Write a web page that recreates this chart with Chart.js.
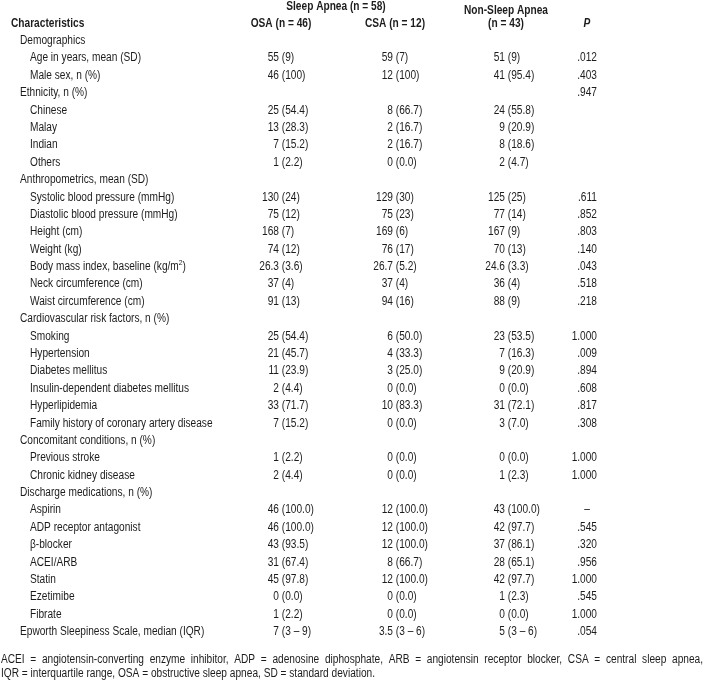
<!DOCTYPE html>
<html>
<head>
<meta charset="utf-8">
<script src="https://cdn.jsdelivr.net/npm/chart.js@4/dist/chart.umd.min.js"></script>
<style>
html,body{margin:0;padding:0;background:#fff;}
#wrap{position:relative;width:704px;height:680px;}
</style>
</head>
<body>
<div id="wrap"><canvas id="c" width="704" height="680"></canvas></div>
<script>
// ---- Table data ----
const rowLabels = [
  "Demographics","Age in years, mean (SD)","Male sex, n (%)",
  "Ethnicity, n (%)","Chinese","Malay","Indian","Others",
  "Anthropometrics, mean (SD)","Systolic blood pressure (mmHg)","Diastolic blood pressure (mmHg)",
  "Height (cm)","Weight (kg)","Body mass index, baseline (kg/m²)","Neck circumference (cm)","Waist circumference (cm)",
  "Cardiovascular risk factors, n (%)","Smoking","Hypertension","Diabetes mellitus",
  "Insulin-dependent diabetes mellitus","Hyperlipidemia","Family history of coronary artery disease",
  "Concomitant conditions, n (%)","Previous stroke","Chronic kidney disease",
  "Discharge medications, n (%)","Aspirin","ADP receptor antagonist","β-blocker","ACEI/ARB","Statin","Ezetimibe","Fibrate",
  "Epworth Sleepiness Scale, median (IQR)"
];
const rowLevel = [0,1,1, 0,1,1,1,1, 0,1,1,1,1,1,1,1, 0,1,1,1,1,1,1, 0,1,1, 0,1,1,1,1,1,1,1, 0];
const osaValues = ["","55 (9)","46 (100)","","25 (54.4)","13 (28.3)","7 (15.2)","1 (2.2)",
  "","130 (24)","75 (12)","168 (7)","74 (12)","26.3 (3.6)","37 (4)","91 (13)",
  "","25 (54.4)","21 (45.7)","11 (23.9)","2 (4.4)","33 (71.7)","7 (15.2)",
  "","1 (2.2)","2 (4.4)",
  "","46 (100.0)","46 (100.0)","43 (93.5)","31 (67.4)","45 (97.8)","0 (0.0)","1 (2.2)",
  "7 (3 – 9)"];
const csaValues = ["","59 (7)","12 (100)","","8 (66.7)","2 (16.7)","2 (16.7)","0 (0.0)",
  "","129 (30)","75 (23)","169 (6)","76 (17)","26.7 (5.2)","37 (4)","94 (16)",
  "","6 (50.0)","4 (33.3)","3 (25.0)","0 (0.0)","10 (83.3)","0 (0.0)",
  "","0 (0.0)","0 (0.0)",
  "","12 (100.0)","12 (100.0)","12 (100.0)","8 (66.7)","12 (100.0)","0 (0.0)","0 (0.0)",
  "3.5 (3 – 6)"];
const nsaValues = ["","51 (9)","41 (95.4)","","24 (55.8)","9 (20.9)","8 (18.6)","2 (4.7)",
  "","125 (25)","77 (14)","167 (9)","70 (13)","24.6 (3.3)","36 (4)","88 (9)",
  "","23 (53.5)","7 (16.3)","9 (20.9)","0 (0.0)","31 (72.1)","3 (7.0)",
  "","0 (0.0)","1 (2.3)",
  "","43 (100.0)","42 (97.7)","37 (86.1)","28 (65.1)","42 (97.7)","1 (2.3)","0 (0.0)",
  "5 (3 – 6)"];
const pValues = ["",".012",".403",".947","","","","",
  "",".611",".852",".803",".140",".043",".518",".218",
  "","1.000",".009",".894",".608",".817",".308",
  "","1.000","1.000",
  "","–",".545",".320",".956","1.000",".545","1.000",
  ".054"];
const headerTop = ["Sleep Apnea (n = 58)", "Non-Sleep Apnea"];
const headerCols = ["Characteristics", "OSA (n = 46)", "CSA (n = 12)", "(n = 43)", "P"];
const footnoteLines = [
  "ACEI = angiotensin-converting enzyme inhibitor, ADP = adenosine diphosphate, ARB = angiotensin receptor blocker, CSA = central sleep apnea,",
  "IQR = interquartile range, OSA = obstructive sleep apnea, SD = standard deviation."
];

// ---- Layout / style ----
const FONT = '"Liberation Sans",Arial,sans-serif';
const FS = 12;
const SX = 0.845;           // horizontal condensing (Arial Narrow look)
const INK = '#1c1c1c';
const colAnchor = {label0: 20, label1: 30, title: 11, osa: 279, csa: 393, nsa: 505, p: 597};

function txt(ctx, s, x, y, align){
  ctx.save();
  ctx.translate(x, y);
  ctx.scale(SX, 1);
  ctx.textAlign = align || 'left';
  ctx.fillText(s, 0, 0);
  ctx.restore();
}
function tw(ctx, s){ return ctx.measureText(s).width * SX; }

function drawAligned(ctx, s, x, y){
  const i = s.indexOf(' (');
  if (i < 0) { txt(ctx, s, x, y, 'left'); return; }
  txt(ctx, s.slice(0,i), x, y, 'right');
  txt(ctx, s.slice(i), x, y, 'left');
}

const tablePlugin = {
  id: 'tableText',
  afterDraw(chart){
    const ctx = chart.ctx, xs = chart.scales.x, ys = chart.scales.y;
    const X = v => xs.getPixelForValue(v);
    ctx.save();
    ctx.fillStyle = INK;
    ctx.textBaseline = 'middle';
    // header
    const yRow0 = ys.getPixelForValue(0);
    const step = ys.getPixelForValue(1) - yRow0;
    const yH2 = yRow0 - step * 1.0;
    const yH1 = yRow0 - step * 2.0;
    ctx.font = 'bold ' + FS + 'px ' + FONT;
    txt(ctx, headerCols[0], X(colAnchor.title), yH2, 'left');
    txt(ctx, headerTop[0], X(336), yH1 + 0.5, 'center');
    txt(ctx, headerCols[1], X(281), yH2, 'center');
    txt(ctx, headerCols[2], X(395), yH2, 'center');
    txt(ctx, headerTop[1], X(506), yH1 + 4.5, 'center');
    txt(ctx, headerCols[3], X(506), yH2 + 0.5, 'center');
    ctx.font = 'italic bold ' + FS + 'px ' + FONT;
    txt(ctx, headerCols[4], X(587), yH2, 'center');
    // body
    ctx.font = FS + 'px ' + FONT;
    rowLabels.forEach((lab, i) => {
      const y = ys.getPixelForValue(i);
      const lx = X(rowLevel[i] === 0 ? colAnchor.label0 : colAnchor.label1);
      const sup = lab.indexOf('²');
      if (sup >= 0) {
        const a = lab.slice(0, sup), b = lab.slice(sup+1);
        txt(ctx, a, lx, y, 'left');
        const wa = tw(ctx, a);
        ctx.font = (FS-4) + 'px ' + FONT;
        txt(ctx, '2', lx + wa, y - 4, 'left');
        const w2 = tw(ctx, '2');
        ctx.font = FS + 'px ' + FONT;
        txt(ctx, b, lx + wa + w2, y, 'left');
      } else {
        txt(ctx, lab, lx, y, 'left');
      }
      if (osaValues[i]) drawAligned(ctx, osaValues[i], X(colAnchor.osa), y);
      if (csaValues[i]) drawAligned(ctx, csaValues[i], X(colAnchor.csa), y);
      if (nsaValues[i]) drawAligned(ctx, nsaValues[i], X(colAnchor.nsa), y);
      if (pValues[i]) {
        if (pValues[i] === '–') txt(ctx, pValues[i], X(587), y, 'center');
        else txt(ctx, pValues[i], X(colAnchor.p), y, 'right');
      }
    });
    // footnote
    const yLast = ys.getPixelForValue(rowLabels.length-1);
    const fy = [yLast + 28, yLast + 41.5];
    const fl = X(1), fr = X(703);
    const words = footnoteLines[0].split(' ');
    const wsum = words.reduce((s,w)=>s+tw(ctx, w),0);
    const gap = (fr - fl - wsum) / (words.length - 1);
    let cx = fl;
    words.forEach(w => { txt(ctx, w, cx, fy[0], 'left'); cx += tw(ctx, w) + gap; });
    txt(ctx, footnoteLines[1], fl, fy[1], 'left');
    ctx.restore();
  }
};

new Chart(document.getElementById('c'), {
  type: 'scatter',
  data: { datasets: [] },
  options: {
    responsive: false,
    animation: false,
    events: [],
    layout: { padding: { top: 32, bottom: 39.4, left: 0, right: 0 } },
    plugins: { legend: { display: false }, tooltip: { enabled: false } },
    scales: {
      x: { type: 'linear', min: 0, max: 704, display: false },
      y: { type: 'category', labels: rowLabels, offset: true, display: false }
    }
  },
  plugins: [tablePlugin]
});
</script>
</body>
</html>
